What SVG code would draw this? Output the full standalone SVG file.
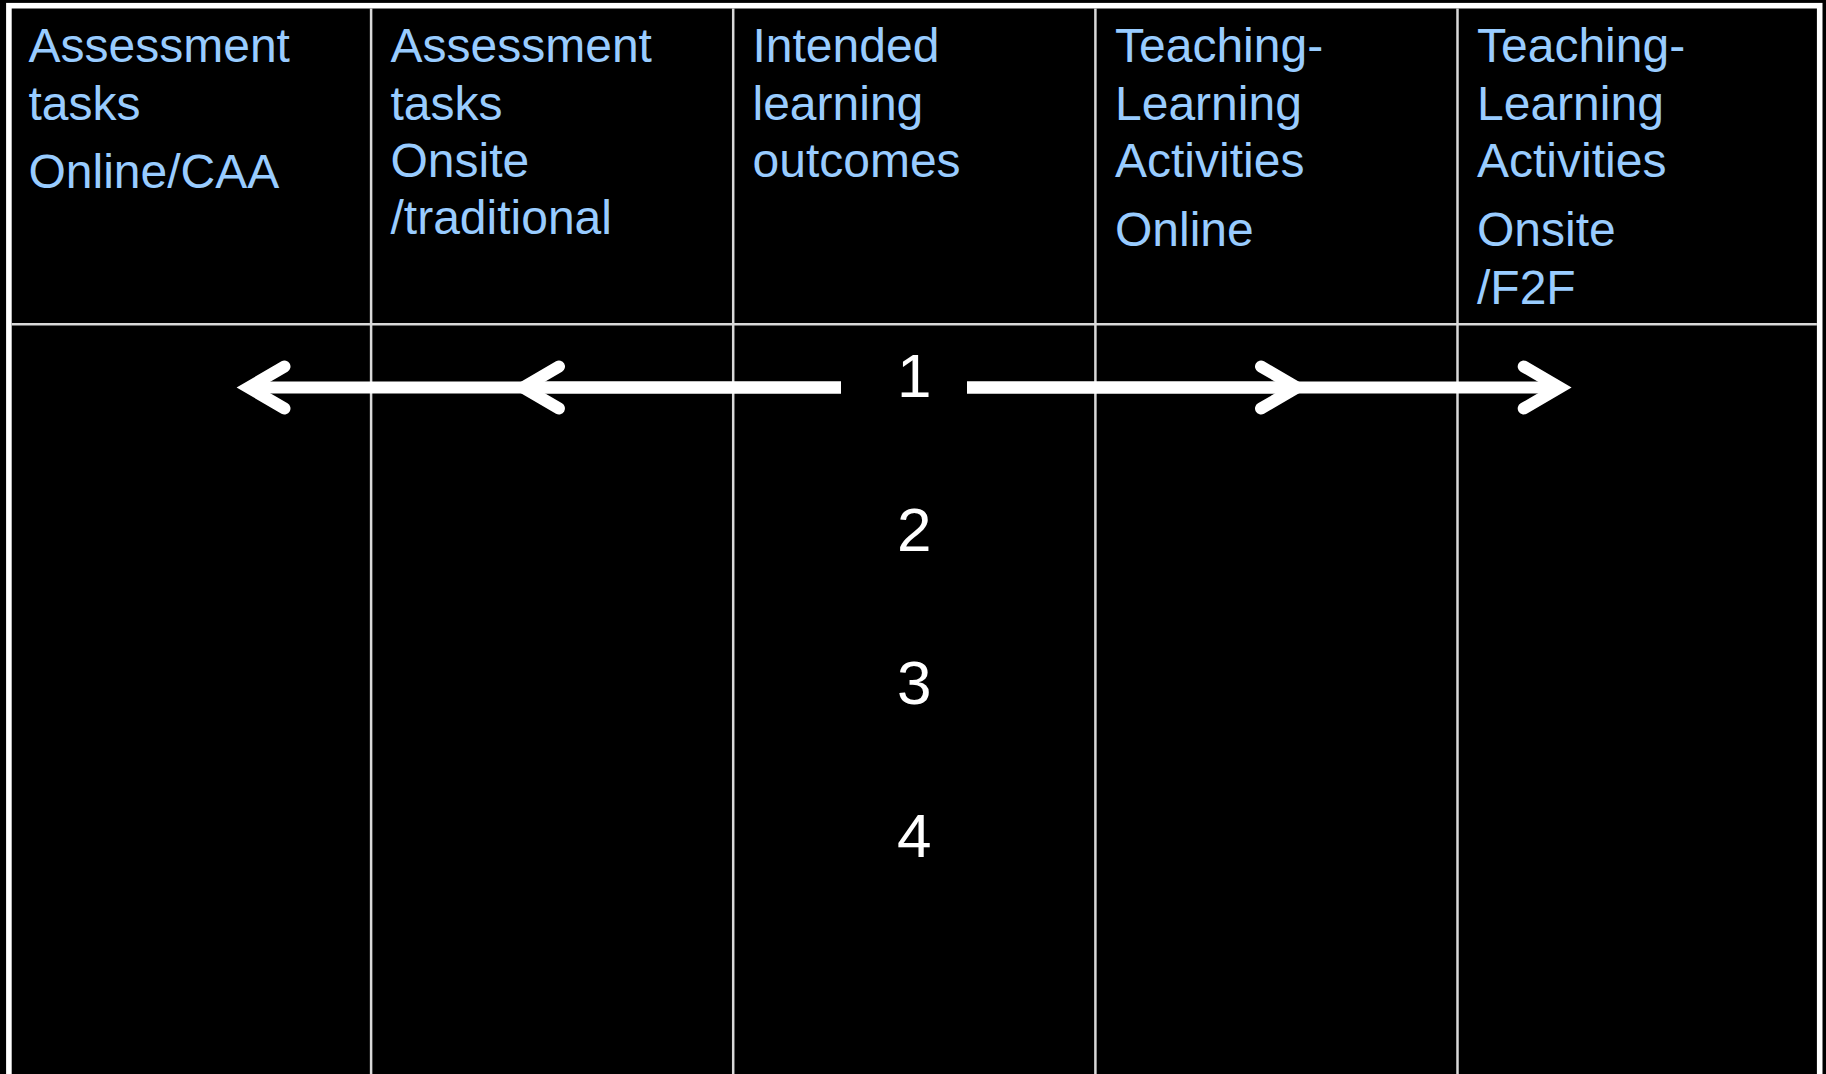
<svg xmlns="http://www.w3.org/2000/svg" width="1826" height="1074" viewBox="0 0 1826 1074">
  <defs>
    <style>
      .grid { stroke: #d9d9d9; stroke-width: 2.5; fill: none; }
      .frame { stroke: #ffffff; stroke-width: 5.6; fill: none; }
      .head { font-family: "Liberation Sans", Arial, sans-serif; font-size: 48px; fill: #99ccff; }
      .num { font-family: "Liberation Sans", Arial, sans-serif; font-size: 62px; fill: #ffffff; text-anchor: middle; }
      .link { stroke: #ffffff; stroke-width: 12; fill: none; marker-end: url(#chevron); }
    </style>
    <!-- open chevron head, vertex at the origin -->
    <marker id="chevron" markerUnits="userSpaceOnUse" orient="auto" refX="0" refY="0"
            markerWidth="80" markerHeight="80" viewBox="-50 -40 80 80" overflow="visible">
      <path d="M -36 -21 L 0 0 L -36 21" fill="none" stroke="#ffffff" stroke-width="12"
            stroke-linecap="round" stroke-linejoin="miter"/>
    </marker>
  </defs>

  <rect x="0" y="0" width="1826" height="1074" fill="#000000"/>

  <!-- table frame and rules -->
  <g id="table">
    <rect class="frame" x="8.9" y="5.7" width="1810.8" height="1100"/>
    <line class="grid" x1="11.7" y1="324.3" x2="1816.9" y2="324.3"/>
    <line class="grid" x1="371.1" y1="8.5" x2="371.1" y2="1074"/>
    <line class="grid" x1="733.2" y1="8.5" x2="733.2" y2="1074"/>
    <line class="grid" x1="1095.4" y1="8.5" x2="1095.4" y2="1074"/>
    <line class="grid" x1="1457.5" y1="8.5" x2="1457.5" y2="1074"/>
  </g>

  <!-- column headings -->
  <g id="col-assessment-online">
    <text class="head" x="28.5" y="62">Assessment</text>
    <text class="head" x="28.5" y="119.5">tasks</text>
    <text class="head" x="28.5" y="188">Online/CAA</text>
  </g>
  <g id="col-assessment-onsite">
    <text class="head" x="390.5" y="62">Assessment</text>
    <text class="head" x="390.5" y="119.5">tasks</text>
    <text class="head" x="390.5" y="177">Onsite</text>
    <text class="head" x="390.5" y="234">/traditional</text>
  </g>
  <g id="col-outcomes">
    <text class="head" x="752.5" y="62">Intended</text>
    <text class="head" x="752.5" y="119.5">learning</text>
    <text class="head" x="752.5" y="177">outcomes</text>
  </g>
  <g id="col-tla-online">
    <text class="head" x="1115" y="62">Teaching-</text>
    <text class="head" x="1115" y="119.5">Learning</text>
    <text class="head" x="1115" y="177">Activities</text>
    <text class="head" x="1115" y="246">Online</text>
  </g>
  <g id="col-tla-onsite">
    <text class="head" x="1477" y="62">Teaching-</text>
    <text class="head" x="1477" y="119.5">Learning</text>
    <text class="head" x="1477" y="177">Activities</text>
    <text class="head" x="1477" y="246">Onsite</text>
    <text class="head" x="1477" y="303.5">/F2F</text>
  </g>

  <!-- outcome numbers -->
  <g id="outcome-1"><text class="num" x="914.3" y="396.7">1</text></g>
  <g id="outcome-2"><text class="num" x="914.3" y="550.5">2</text></g>
  <g id="outcome-3"><text class="num" x="914.3" y="703.8">3</text></g>
  <g id="outcome-4"><text class="num" x="914.3" y="857.3">4</text></g>

  <!-- alignment arrows from outcome 1 -->
  <g id="connectors">
    <path class="link" d="M 841 387.5 H 248.5"/>
    <path class="link" d="M 841 387.5 H 523"/>
    <path class="link" d="M 967 387.5 H 1297"/>
    <path class="link" d="M 967 387.5 H 1559.7"/>
  </g>
</svg>
